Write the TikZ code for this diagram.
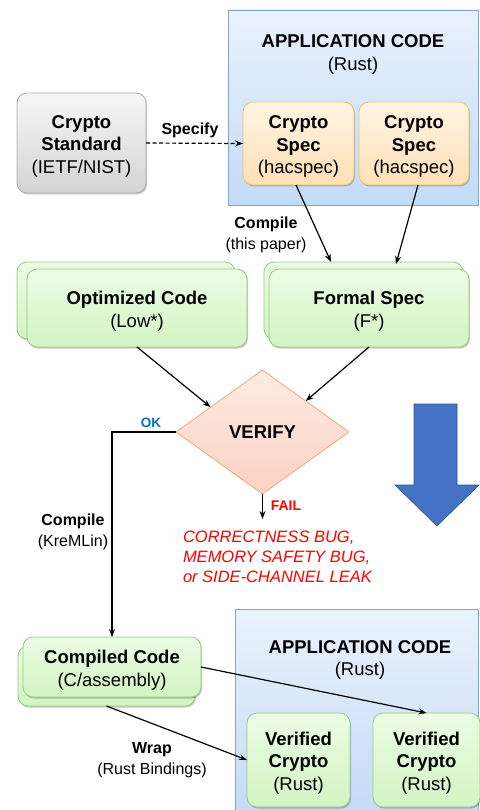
\documentclass[tikz,border=0pt]{standalone}
\usepackage{fontspec}
\setmainfont{Liberation Sans}
\usetikzlibrary{shapes.geometric,shadows,calc,arrows.meta}
\definecolor{appT}{HTML}{EAF2FD}
\definecolor{appBt}{HTML}{C4DAF7}
\definecolor{appD}{HTML}{7EA6DA}
\definecolor{specT}{HTML}{FFF5E3}
\definecolor{specB}{HTML}{FFE0B5}
\definecolor{specD}{HTML}{EDC366}
\definecolor{grT}{HTML}{ECFCE5}
\definecolor{grB}{HTML}{D2F4C2}
\definecolor{grD}{HTML}{94CC7C}
\definecolor{stT}{HTML}{F6F6F6}
\definecolor{stB}{HTML}{D4D4D4}
\definecolor{stD}{HTML}{ADADAD}
\definecolor{dmT}{HTML}{FDEBE4}
\definecolor{dmB}{HTML}{FBD2C2}
\definecolor{dmD}{HTML}{F2A877}
\definecolor{okblue}{HTML}{0070C0}
\definecolor{bigarrow}{HTML}{4472C4}
\definecolor{bigarrowD}{HTML}{2F528F}
\newcommand\toppad{\rule{0pt}{19.5pt}}
\begin{document}
\begin{tikzpicture}[x=1pt,y=-1pt,
  every node/.style={inner sep=0pt, outer sep=0pt},
  txt/.style={font=\fontsize{18.5}{22.5}\selectfont, align=center},
  lbl/.style={font=\fontsize{16}{21}\selectfont, align=center, yshift=-2.5pt},
  shad/.style={drop shadow={shadow xshift=1pt, shadow yshift=-1.5pt, fill=black, opacity=0.22}},
  appbox/.style={draw=appD, top color=appT, bottom color=appBt, line width=0.8pt},
  specbox/.style={txt, draw=specD, top color=specT, bottom color=specB, line width=0.8pt, rounded corners=10pt, shad},
  grbox/.style={txt, draw=grD, top color=grT, bottom color=grB, line width=0.8pt, rounded corners=10pt, shad},
  stdbox/.style={txt, draw=stD, top color=stT, bottom color=stB, line width=0.8pt, rounded corners=10pt, shad},
  dmbox/.style={txt, diamond, draw=dmD, top color=dmT, bottom color=dmB, line width=0.8pt},
  arr/.style={-{Stealth[length=8pt,width=6pt]}, line width=1.2pt}
]
\useasboundingbox (0,0) rectangle (479,810);

% application code (top)
\node[appbox, minimum width=250, minimum height=195] (app1) at (353,107.5) {};
\node[txt, yshift=-3pt] (app1t) at (353,51.5) {\textbf{APPLICATION CODE}\\(Rust)};

% crypto standard
\node[stdbox, minimum width=129, minimum height=100] (std) at (81.5,143) {\toppad\textbf{Crypto}\\\textbf{Standard}\\(IETF/NIST)};

% crypto specs
\node[specbox, minimum width=111, minimum height=83] (spec1) at (298.5,143.5) {\toppad\textbf{Crypto}\\\textbf{Spec}\\(hacspec)};
\node[specbox, minimum width=110, minimum height=83] (spec2) at (414,143.5) {\toppad\textbf{Crypto}\\\textbf{Spec}\\(hacspec)};

% specify
\draw[arr, line width=1.2pt, dash pattern=on 4pt off 2.5pt] (std.east) -- (spec1.west);
\node[lbl] (specify) at (190,128) {\textbf{Specify}};

% green stacked boxes
\node[grbox, minimum width=218, minimum height=77] (optb) at (126,300.5) {};
\node[grbox, minimum width=220, minimum height=78] (optf) at (137,308) {\toppad\textbf{Optimized Code}\\(Low*)};
\node[grbox, minimum width=199, minimum height=77] (formb) at (363.5,300.5) {};
\node[grbox, minimum width=200, minimum height=78] (formf) at (369,308) {\toppad\textbf{Formal Spec}\\(F*)};

% compile (this paper)
\draw[arr] ([xshift=-2.5]spec1.south) -- ([xshift=-32.5]formb.north);
\draw[arr] ([xshift=4]spec2.south) -- ([xshift=32.5,yshift=-2]formb.north);
\node[lbl] (comp1) at (266,232.5) {\textbf{Compile}\\(this paper)};

% verify
\node[dmbox, minimum width=173, minimum height=124] (verify) at (262.5,432) {\textbf{VERIFY}};
\draw[arr] (optf.south) -- ($(verify.west)!0.4!(verify.north)$);
\draw[arr] (formf.south) -- (verify.north east);

% compiled code
\node[grbox, minimum width=177, minimum height=60] (compb) at (106.5,676) {};
\node[grbox, minimum width=178, minimum height=60] (compf) at (112,667) {\toppad\textbf{Compiled Code}\\(C/assembly)};

% OK path
\draw[arr] (verify.west) -| (compf.north);
\node[font=\fontsize{13.5}{16}\selectfont\bfseries, text=okblue] (ok) at (151,423) {OK};
\node[lbl] (comp2) at (73,529.5) {\textbf{Compile}\\(KreMLin)};

% FAIL path
\coordinate (failend) at (262.5,519);
\draw[arr] (verify.south) -- (failend);
\node[font=\fontsize{14}{16}\selectfont\bfseries, text=red] (fail) at (286,506) {FAIL};
\node[font=\fontsize{16.5}{20}\selectfont\itshape, text=red, align=left, anchor=west] (bugs) at (183,557) {CORRECTNESS BUG,\\MEMORY SAFETY BUG,\\or SIDE-CHANNEL LEAK};

% big blue arrow
\draw[fill=bigarrow, draw=bigarrowD, line width=0.6pt] (414,404) -- (457,404) -- (457,485) -- (479,485) -- (437,526) -- (395,485) -- (414,485) -- cycle;

% application code (bottom)
\node[appbox, minimum width=243.5, minimum height=206] (app2) at (356.75,712) {};
\node[txt, yshift=-3pt] (app2t) at (360,657) {\textbf{APPLICATION CODE}\\(Rust)};
\node[grbox, minimum width=103, minimum height=94] (ver1) at (298.5,760) {\toppad\textbf{Verified}\\\textbf{Crypto}\\(Rust)};
\node[grbox, minimum width=107, minimum height=94] (ver2) at (426.5,760) {\toppad\textbf{Verified}\\\textbf{Crypto}\\(Rust)};

\draw[arr] (compf.east) -- (ver2.north);
\draw[arr] (compb.south) -- (ver1.west);
\node[lbl] (wrap) at (152,757.5) {\textbf{Wrap}\\(Rust Bindings)};
\end{tikzpicture}
\end{document}
